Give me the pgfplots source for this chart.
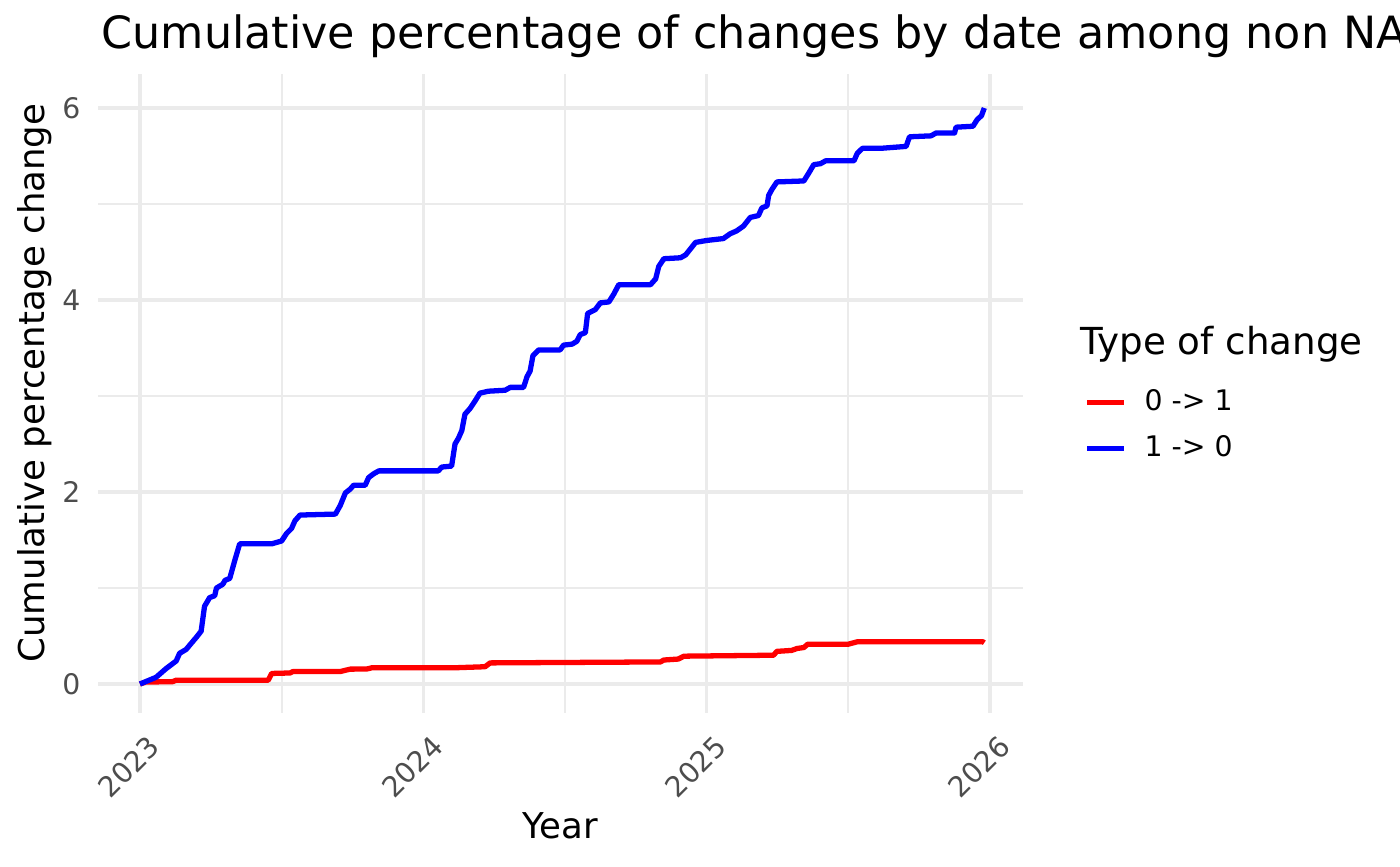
\documentclass[border=0pt]{standalone}
\usepackage{fontspec}
\setmainfont{DejaVu Sans}
\usepackage{pgfplots}
\pgfplotsset{compat=1.18}
\usepackage{pgfplotstable}
\definecolor{gridc}{HTML}{EBEBEB}
\definecolor{tickc}{HTML}{4D4D4D}
\definecolor{redline}{HTML}{FF0000}
\definecolor{blueline}{HTML}{0000FF}

\pgfplotstableread{
x y
2023.000 0.00
2023.020 0.02
2023.116 0.025
2023.128 0.04
2023.453 0.04
2023.465 0.11
2023.530 0.115
2023.540 0.13
2023.707 0.13
2023.742 0.155
2023.800 0.156
2023.820 0.17
2024.118 0.17
2024.218 0.18
2024.236 0.22
2024.837 0.23
2024.849 0.25
2024.900 0.26
2024.920 0.29
2025.236 0.30
2025.248 0.34
2025.300 0.35
2025.319 0.37
2025.343 0.38
2025.357 0.415
2025.500 0.415
2025.532 0.44
2025.975 0.44
2025.980 0.43
}\reddata

\pgfplotstableread{
x y
2023.000 0.00
2023.057 0.07
2023.092 0.16
2023.128 0.24
2023.140 0.32
2023.163 0.36
2023.180 0.42
2023.200 0.49
2023.216 0.55
2023.228 0.81
2023.246 0.90
2023.264 0.92
2023.270 1.00
2023.293 1.04
2023.300 1.08
2023.317 1.10
2023.335 1.29
2023.352 1.46
2023.465 1.46
2023.500 1.49
2023.518 1.57
2023.535 1.62
2023.547 1.70
2023.565 1.76
2023.690 1.77
2023.707 1.86
2023.725 1.99
2023.742 2.03
2023.754 2.07
2023.795 2.07
2023.807 2.15
2023.825 2.19
2023.843 2.22
2024.053 2.22
2024.065 2.26
2024.100 2.27
2024.112 2.50
2024.124 2.56
2024.136 2.64
2024.147 2.81
2024.165 2.87
2024.183 2.95
2024.200 3.03
2024.230 3.05
2024.289 3.06
2024.307 3.09
2024.354 3.09
2024.366 3.20
2024.377 3.26
2024.387 3.42
2024.407 3.48
2024.483 3.48
2024.495 3.53
2024.525 3.54
2024.542 3.57
2024.554 3.64
2024.572 3.66
2024.580 3.86
2024.607 3.90
2024.625 3.97
2024.655 3.98
2024.672 4.06
2024.690 4.16
2024.802 4.16
2024.820 4.22
2024.831 4.35
2024.849 4.43
2024.908 4.44
2024.926 4.47
2024.961 4.60
2025.000 4.62
2025.059 4.64
2025.083 4.69
2025.106 4.72
2025.130 4.77
2025.154 4.86
2025.183 4.88
2025.195 4.96
2025.213 4.98
2025.219 5.09
2025.230 5.15
2025.248 5.23
2025.343 5.24
2025.360 5.32
2025.378 5.41
2025.402 5.42
2025.420 5.45
2025.520 5.45
2025.532 5.53
2025.550 5.58
2025.615 5.58
2025.704 5.60
2025.716 5.70
2025.792 5.71
2025.810 5.74
2025.875 5.74
2025.880 5.80
2025.940 5.81
2025.955 5.88
2025.970 5.92
2025.980 6.00
}\bluedata

\begin{document}
\begin{tikzpicture}
\useasboundingbox (-35.28pt,-55.08pt) rectangle (468.72pt,256.68pt);
\clip (-35.28pt,-55.08pt) rectangle (468.72pt,256.68pt);
\begin{axis}[
  scale only axis,
  width=333pt, height=230.04pt,
  xmin=2022.852, xmax=2026.1165,
  ymin=-0.302, ymax=6.354,
  axis line style={draw=none},
  tick style={draw=none},
  major tick length=0pt, minor tick length=0pt,
  xtick={2023,2024,2025,2026},
  xticklabels={2023,2024,2025,2026},
  minor xtick={2023.5,2024.5,2025.5},
  ytick={0,2,4,6},
  minor ytick={1,3,5},
  grid=both,
  major grid style={gridc, line width=1.25pt},
  minor grid style={gridc, line width=0.65pt},
  /pgf/number format/assume math mode=true,
  ticklabel style={font=\fontsize{10.2}{12}\selectfont, text=tickc},
  yticklabel style={anchor=east, inner sep=0pt, xshift=-6.1pt},
  xticklabel style={yshift=-7.2pt, xshift=2.5pt, rotate=45, anchor=north east, inner sep=0pt},
  every axis title shift=0pt,
  title={Cumulative percentage of changes by date among non NA},
  title style={at={(axis description cs:0.00324,1.0407)}, anchor=base west, font=\fontsize{16}{19}\selectfont, inner sep=0pt},
  xlabel={Year},
  xlabel style={at={(axis description cs:0.5,-0.1956)}, anchor=base, font=\fontsize{12.8}{15}\selectfont, inner sep=0pt},
  ylabel={Cumulative percentage change},
  ylabel style={at={(axis description cs:-0.0573,0.5164)}, anchor=base, font=\fontsize{12.8}{15}\selectfont, inner sep=0pt},
  legend style={at={(axis description cs:1.0661,0.507)}, anchor=north west, draw=none, fill=none, inner sep=0pt,
    font=\fontsize{10.2}{12}\selectfont, row sep=7.06pt,
    nodes={inner sep=0pt, text height=7.5pt, text depth=2pt},
    cells={anchor=west},
    /tikz/every odd column/.append style={column sep=6.4pt}},
  legend image code/.code={\draw[#1] (0pt,0pt) -- (13.3pt,0pt);},
]
\addplot[redline, line width=1.9pt, line join=round] table[x=x,y=y] {\reddata};
\addlegendentry{0 -> 1}
\addplot[blueline, line width=1.9pt, line join=round] table[x=x,y=y] {\bluedata};
\addlegendentry{1 -> 0}
\end{axis}
\node[anchor=base west, inner sep=0pt, font=\fontsize{13.4}{16}\selectfont] at (353.5pt,129.2pt) {Type of change};
\end{tikzpicture}
\end{document}
